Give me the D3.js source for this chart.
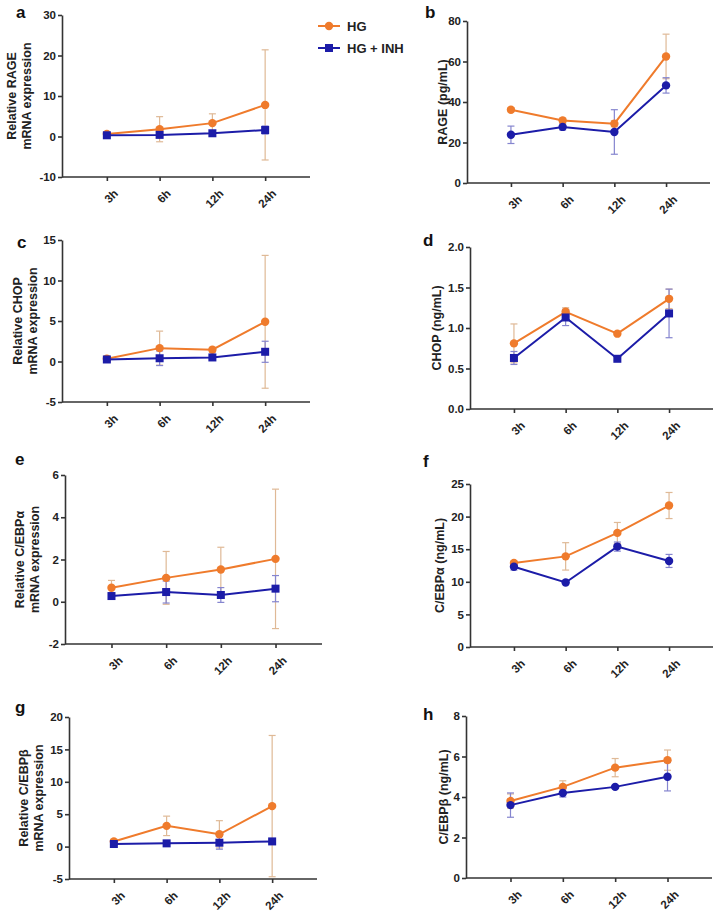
<!DOCTYPE html>
<html>
<head>
<meta charset="utf-8">
<script src="https://cdnjs.cloudflare.com/ajax/libs/d3/7.8.5/d3.min.js"></script>
<style>
  body { margin: 0; background: #fff; }
  svg { display: block; font-family: Arial, "Liberation Sans", sans-serif; font-weight: bold; }
  .axis path, .axis line { stroke: #333; stroke-width: 1.6; }
  .axis text { fill: #222; font-size: 11.5px; font-weight: bold; }
</style>
</head>
<body>
<svg width="720" height="914"></svg>
<script>
var times = ["3h", "6h", "12h", "24h"];
var seriesNames = ["HG", "HG + INH"];

// a - RAGE mRNA
var rageMrnaHG = [0.6, 1.8, 3.3, 7.8];
var rageMrnaHGErr = [0.3, 3.1, 2.3, 13.6];
var rageMrnaINH = [0.3, 0.4, 0.8, 1.6];
var rageMrnaINHErr = [0.5, 0.4, 0.5, 1.0];
// b - RAGE protein
var ragePgHG = [36.2, 30.9, 29.3, 62.5];
var ragePgHGErr = [1.0, 1.2, 1.5, 11.0];
var ragePgINH = [23.8, 27.7, 25.2, 48.2];
var ragePgINHErr = [4.3, 1.5, 11.0, 3.8];
// c - CHOP mRNA
var chopMrnaHG = [0.35, 1.65, 1.45, 4.9];
var chopMrnaHGErr = [0.3, 2.1, 0.3, 8.2];
var chopMrnaINH = [0.25, 0.4, 0.5, 1.2];
var chopMrnaINHErr = [0.2, 0.9, 0.2, 1.3];
// d - CHOP protein
var chopNgHG = [0.81, 1.2, 0.93, 1.36];
var chopNgHGErr = [0.24, 0.05, 0.02, 0.12];
var chopNgINH = [0.63, 1.13, 0.62, 1.18];
var chopNgINHErr = [0.08, 0.1, 0.02, 0.3];
// e - C/EBPa mRNA
var cebpaMrnaHG = [0.66, 1.13, 1.53, 2.03];
var cebpaMrnaHGErr = [0.35, 1.25, 1.05, 3.3];
var cebpaMrnaINH = [0.27, 0.46, 0.32, 0.62];
var cebpaMrnaINHErr = [0.1, 0.52, 0.35, 0.62];
// f - C/EBPa protein
var cebpaNgHG = [12.9, 13.9, 17.5, 21.7];
var cebpaNgHGErr = [0.3, 2.1, 1.6, 2.0];
var cebpaNgINH = [12.3, 9.9, 15.4, 13.2];
var cebpaNgINHErr = [0.5, 0.2, 0.7, 1.0];
// g - C/EBPb mRNA
var cebpbMrnaHG = [0.8, 3.2, 1.9, 6.25];
var cebpbMrnaHGErr = [0.3, 1.5, 2.1, 10.9];
var cebpbMrnaINH = [0.4, 0.5, 0.6, 0.8];
var cebpbMrnaINHErr = [0.2, 0.2, 1.0, 0.3];
// h - C/EBPb protein
var cebpbNgHG = [3.8, 4.5, 5.45, 5.82];
var cebpbNgHGErr = [0.35, 0.3, 0.45, 0.5];
var cebpbNgINH = [3.6, 4.2, 4.5, 5.0];
var cebpbNgINHErr = [0.6, 0.2, 0.05, 0.7];

var yTicksA = [-10, 0, 10, 20, 30];
var yTicksB = [0, 20, 40, 60, 80];
var yTicksC = [-5, 0, 5, 10, 15];
var yTicksD = [0, 0.5, 1.0, 1.5, 2.0];
var yTicksE = [-2, 0, 2, 4, 6];
var yTicksF = [0, 5, 10, 15, 20, 25];
var yTicksG = [-5, 0, 5, 10, 15, 20];
var yTicksH = [0, 2, 4, 6, 8];

var orange = "#ef7b2c", blue = "#1c1ca8";
var orangeErr = "#dfb996", blueErr = "#8585cf";

var panels = [
  { letter: "a", lx: 16, ly: 18, ax: 62, top: 15, bottom: 177, w: 248, ticks: yTicksA, fmt: "d",
    label: ["Relative RAGE", "mRNA expression"], labX: -50,
    hg: rageMrnaHG, hgE: rageMrnaHGErr, inh: rageMrnaINH, inhE: rageMrnaINHErr, inhShape: "square" },
  { letter: "b", lx: 425, ly: 18, ax: 467, top: 21, bottom: 183, w: 243, ticks: yTicksB, fmt: "d",
    label: ["RAGE (pg/mL)"], labX: -24,
    hg: ragePgHG, hgE: ragePgHGErr, inh: ragePgINH, inhE: ragePgINHErr, inhShape: "circle" },
  { letter: "c", lx: 17, ly: 248, ax: 62, top: 240, bottom: 402, w: 248, ticks: yTicksC, fmt: "d",
    label: ["Relative CHOP", "mRNA expression"], labX: -44,
    hg: chopMrnaHG, hgE: chopMrnaHGErr, inh: chopMrnaINH, inhE: chopMrnaINHErr, inhShape: "square" },
  { letter: "d", lx: 423, ly: 246, ax: 470, top: 247, bottom: 409, w: 243, ticks: yTicksD, fmt: ".1f",
    label: ["CHOP (ng/mL)"], labX: -33,
    hg: chopNgHG, hgE: chopNgHGErr, inh: chopNgINH, inhE: chopNgINHErr, inhShape: "square" },
  { letter: "e", lx: 15, ly: 465, ax: 65, top: 475, bottom: 644, w: 257, ticks: yTicksE, fmt: "d",
    label: ["Relative C/EBP\u03b1", "mRNA expression"], labX: -45,
    hg: cebpaMrnaHG, hgE: cebpaMrnaHGErr, inh: cebpaMrnaINH, inhE: cebpaMrnaINHErr, inhShape: "square" },
  { letter: "f", lx: 423, ly: 467, ax: 470, top: 484, bottom: 647, w: 243, ticks: yTicksF, fmt: "d",
    label: ["C/EBP\u03b1 (ng/mL)"], labX: -30,
    hg: cebpaNgHG, hgE: cebpaNgHGErr, inh: cebpaNgINH, inhE: cebpaNgINHErr, inhShape: "circle" },
  { letter: "g", lx: 15, ly: 713, ax: 69, top: 717, bottom: 879, w: 248, ticks: yTicksG, fmt: "d",
    label: ["Relative C/EBP\u03b2", "mRNA expression"], labX: -45,
    hg: cebpbMrnaHG, hgE: cebpbMrnaHGErr, inh: cebpbMrnaINH, inhE: cebpbMrnaINHErr, inhShape: "square" },
  { letter: "h", lx: 423, ly: 720, ax: 466, top: 716, bottom: 878, w: 246, ticks: yTicksH, fmt: "d",
    label: ["C/EBP\u03b2 (ng/mL)"], labX: -22,
    hg: cebpbNgHG, hgE: cebpbNgHGErr, inh: cebpbNgINH, inhE: cebpbNgINHErr, inhShape: "circle" }
];

var svg = d3.select("svg");

function marker(sel, shape, color) {
  if (shape === "square") {
    sel.append("rect").attr("x", -4).attr("y", -4).attr("width", 8).attr("height", 8).attr("fill", color);
  } else {
    sel.append("circle").attr("r", 4.2).attr("fill", color);
  }
}

panels.forEach(function(p) {
  var g = svg.append("g");
  var x = d3.scalePoint().domain(times).range([p.ax, p.ax + p.w]).padding(0.85);
  var y = d3.scaleLinear().domain(d3.extent(p.ticks)).range([p.bottom, p.top]);
  var f = d3.format(p.fmt);

  g.append("text").attr("x", p.lx).attr("y", p.ly)
    .attr("font-size", "17px").attr("fill", "#111").text(p.letter);

  // y label
  var cy = (p.top + p.bottom) / 2;
  p.label.forEach(function(t, i) {
    g.append("text")
      .attr("transform", "translate(" + (p.ax + p.labX + i * 15 + 4) + "," + cy + ") rotate(-90)")
      .attr("text-anchor", "middle").attr("font-size", "12.5px").attr("fill", "#222")
      .text(t);
  });

  g.append("g").attr("class", "axis")
    .attr("transform", "translate(" + p.ax + ",0)")
    .call(d3.axisLeft(y).tickValues(p.ticks)
      .tickFormat(function(d) { return f(d).replace("\u2212", "-"); })
      .tickSize(4).tickSizeOuter(0).tickPadding(2));

  var xa = g.append("g").attr("class", "axis")
    .attr("transform", "translate(0," + p.bottom + ")")
    .call(d3.axisBottom(x).tickSize(4).tickSizeOuter(0));
  xa.select(".domain").attr("d", "M" + p.ax + ",0H" + (p.ax + p.w));
  xa.selectAll("text")
    .attr("text-anchor", "end")
    .attr("dy", "0.3em")
    .attr("transform", "translate(4,10) rotate(-45)");

  var sets = [
    { v: p.hg, e: p.hgE, c: orange, ec: orangeErr, shape: "circle" },
    { v: p.inh, e: p.inhE, c: blue, ec: blueErr, shape: p.inhShape }
  ];
  sets.forEach(function(s) {
    var eb = g.append("g").attr("stroke", s.ec).attr("stroke-width", 1.2);
    times.forEach(function(t, i) {
      var cx = x(t), y1 = y(s.v[i] + s.e[i]), y2 = y(s.v[i] - s.e[i]);
      eb.append("line").attr("x1", cx).attr("x2", cx).attr("y1", y1).attr("y2", y2);
      eb.append("line").attr("x1", cx - 3.5).attr("x2", cx + 3.5).attr("y1", y1).attr("y2", y1);
      eb.append("line").attr("x1", cx - 3.5).attr("x2", cx + 3.5).attr("y1", y2).attr("y2", y2);
    });
  });
  sets.forEach(function(s) {
    var line = d3.line().x(function(d, i) { return x(times[i]); }).y(function(d) { return y(d); });
    g.append("path").datum(s.v).attr("d", line)
      .attr("fill", "none").attr("stroke", s.c).attr("stroke-width", 2);
    g.selectAll(null).data(s.v).enter().append("g")
      .attr("transform", function(d, i) { return "translate(" + x(times[i]) + "," + y(d) + ")"; })
      .each(function() { marker(d3.select(this), s.shape, s.c); });
  });
});

// legend
var leg = svg.append("g").attr("transform", "translate(318,26)");
seriesNames.forEach(function(n, i) {
  var row = leg.append("g").attr("transform", "translate(0," + (i * 22) + ")");
  var c = i === 0 ? orange : blue;
  row.append("line").attr("x1", 0).attr("x2", 22).attr("stroke", c).attr("stroke-width", 2);
  marker(row.append("g").attr("transform", "translate(11,0)"), i === 0 ? "circle" : "square", c);
  row.append("text").attr("x", 29).attr("y", 5).attr("font-size", "13px").attr("fill", "#222").text(n);
});
</script>
</body>
</html>
